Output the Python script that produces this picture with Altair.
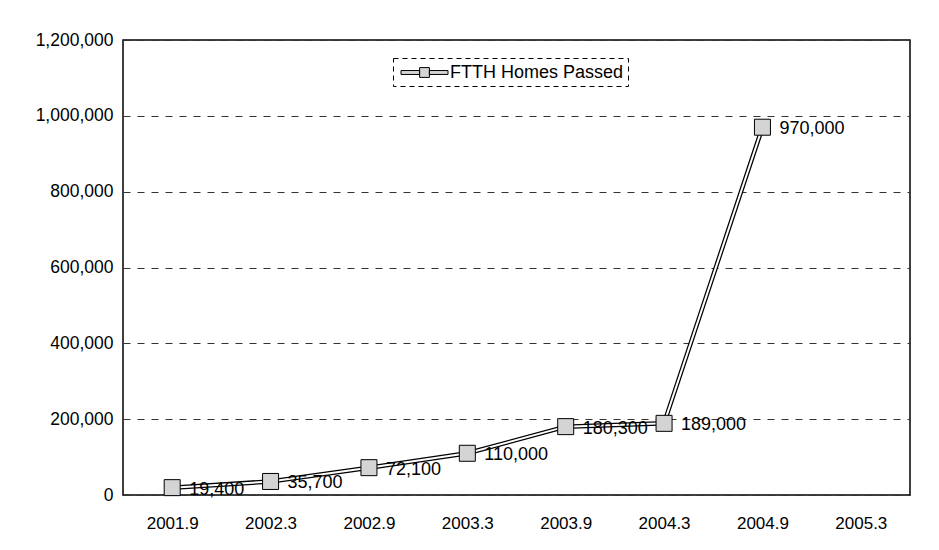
import altair as alt
import pandas as pd

periods = ["2001.9", "2002.3", "2002.9", "2003.3", "2003.9", "2004.3", "2004.9", "2005.3"]
data_periods = ["2001.9", "2002.3", "2002.9", "2003.3", "2003.9", "2004.3", "2004.9"]
homes_passed = [19400, 35700, 72100, 110000, 180300, 189000, 970000]
series_name = "FTTH Homes Passed"
y_ticks = [0, 200000, 400000, 600000, 800000, 1000000, 1200000]

df = pd.DataFrame({"period": data_periods, "value": homes_passed, "series": series_name})
df["label"] = df["value"].map(lambda v: f"{v:,}")

FONT = "Liberation Sans"

x = alt.X("period:N", scale=alt.Scale(domain=periods, paddingInner=0, paddingOuter=0),
          axis=alt.Axis(title=None, labelAngle=0, labelFontSize=17, labelColor="black",
                        labelPadding=20, ticks=False, domain=False, grid=False, labelFont=FONT))
y = alt.Y("value:Q", scale=alt.Scale(domain=[0, 1200000], nice=False),
          axis=alt.Axis(title=None, values=y_ticks, format=",d", labelFontSize=17.5,
                        labelColor="black", labelPadding=10, ticks=False, domain=False,
                        grid=True, gridColor="#333333", gridDash=[7, 7], gridWidth=1,
                        labelFont=FONT))

base = alt.Chart(df).encode(x=x, y=y)

outer = base.mark_line(color="black", strokeWidth=4.5)
inner = base.mark_line(color="white", strokeWidth=2)

legend_path = ("M-2.4,-0.2H-0.5V0.2H-2.4Z M0.5,-0.2H2.4V0.2H0.5Z "
               "M-0.5,-0.5H0.5V0.5H-0.5Z")

points = base.mark_point(shape="square", size=256, filled=True, stroke="black",
                         strokeWidth=1, opacity=1).encode(
    fill=alt.Fill("series:N", scale=alt.Scale(range=["#d4d4d4"]),
                  legend=alt.Legend(title=None, orient="none", legendX=270, legendY=18,
                                    symbolType=legend_path, symbolSize=384,
                                    symbolOffset=17,
                                    symbolStrokeColor="black", symbolStrokeWidth=1,
                                    labelFontSize=18, labelColor="black", labelFont=FONT,
                                    labelOffset=15, labelLimit=400, strokeColor="black",
                                    padding=4))
)

labels = base.mark_text(align="left", baseline="middle", dx=17, dy=2, fontSize=18,
                        font=FONT, color="black").encode(text="label:N")

chart = alt.layer(outer, inner, points, labels).properties(
    width=787, height=455,
    padding={"left": 123, "top": 40, "right": 29, "bottom": 55},
    autosize=alt.AutoSizeParams(type="none"),
    background="white",
).configure_view(stroke="black", strokeWidth=1.5).configure_legend(
    strokeDash=[5, 4]
)

chart.save("out.html", embed_options={"renderer": "svg", "actions": False})
